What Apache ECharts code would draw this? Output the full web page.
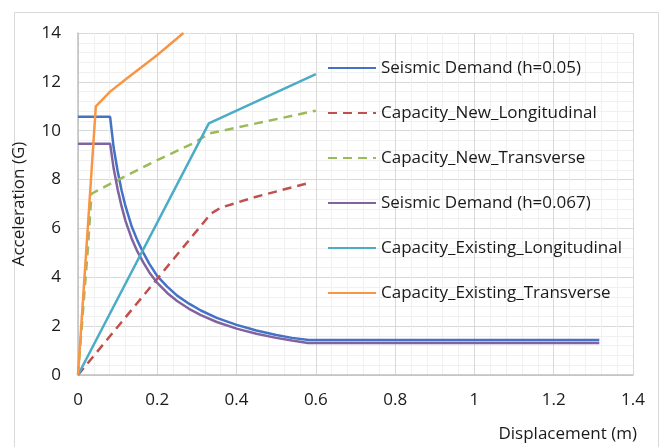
<!DOCTYPE html>
<html>
<head>
<meta charset="utf-8">
<script src="https://cdn.jsdelivr.net/npm/echarts@6/dist/echarts.min.js"></script>
<style>html,body{margin:0;padding:0;background:#fff;}#chart{width:663px;height:447px;}</style>
</head>
<body>
<div id="chart"></div>
<script>
// Series names (legend order)
const seriesNames = [
  'Seismic Demand (h=0.05)',
  'Capacity_New_Longitudinal',
  'Capacity_New_Transverse',
  'Seismic Demand (h=0.067)',
  'Capacity_Existing_Longitudinal',
  'Capacity_Existing_Transverse'
];
// [displacement (m), acceleration (G)]
const demand005 = [[0,10.57],[0.081,10.57],[0.09,9.3],[0.1,8.35],[0.11,7.55],[0.12,6.9],[0.135,6.1],[0.15,5.5],[0.165,5.0],[0.18,4.55],[0.2,4.05],[0.225,3.62],[0.25,3.25],[0.28,2.92],[0.31,2.64],[0.35,2.34],[0.4,2.05],[0.45,1.82],[0.5,1.64],[0.54,1.52],[0.582,1.43],[1.315,1.43]];
const newLongitudinal = [[0,0],[0.335,6.6],[0.36,6.85],[0.45,7.3],[0.58,7.85]];
const newTransverse = [[0,0],[0.025,5.2],[0.034,7.42],[0.089,7.89],[0.19,8.72],[0.29,9.48],[0.332,9.89],[0.45,10.3],[0.6,10.82]];
const demand0067 = [[0,9.47],[0.081,9.47],[0.09,8.45],[0.1,7.6],[0.11,6.9],[0.12,6.3],[0.135,5.6],[0.15,5.05],[0.165,4.6],[0.18,4.2],[0.2,3.77],[0.225,3.36],[0.25,3.03],[0.28,2.71],[0.31,2.45],[0.35,2.17],[0.4,1.9],[0.45,1.69],[0.5,1.52],[0.54,1.41],[0.58,1.31],[1.315,1.31]];
const existingLongitudinal = [[0,0],[0.33,10.3],[0.6,12.32]];
const existingTransverse = [[0,0],[0.045,11.0],[0.081,11.6],[0.123,12.14],[0.16,12.6],[0.2,13.1],[0.266,14.0]];

const seriesData = [demand005, newLongitudinal, newTransverse, demand0067, existingLongitudinal, existingTransverse];
const colors = ['#4472C4','#C0504D','#9BBB59','#8064A2','#4BACC6','#F79646'];
const dashed = [false, true, true, false, false, false];

const xTicks = {min:0, max:1.4, interval:0.2};
const yTicks = {min:0, max:14, interval:2};

const font = 'Open Sans, Liberation Sans, sans-serif';
const textColor = '#1a1a1a';
const chart = echarts.init(document.getElementById('chart'), null, {renderer:'canvas'});
chart.setOption({
  animation:false,
  backgroundColor:'#ffffff',
  color: colors,
  grid:{left:78, top:33, width:555, height:342, containLabel:false},
  legend:{
    orient:'vertical', left:322, top:53,
    itemWidth:48, itemHeight:14, itemGap:25,
    data: seriesNames,
    itemStyle:{opacity:0},
    textStyle:{fontFamily:font, fontSize:17, color:textColor, lineHeight:20}
  },
  xAxis:{
    type:'value', min:xTicks.min, max:xTicks.max, interval:xTicks.interval,
    axisLine:{show:true, onZero:false, lineStyle:{color:'#BFBFBF', width:1.5}},
    axisTick:{show:false},
    axisLabel:{fontFamily:font, fontSize:17, color:textColor, margin:17},
    splitLine:{show:true, lineStyle:{color:'#D9D9D9', width:1}},
    minorTick:{show:false, splitNumber:5},
    minorSplitLine:{show:true, lineStyle:{color:'#F0F0F0', width:1}}
  },
  yAxis:{
    type:'value', min:yTicks.min, max:yTicks.max, interval:yTicks.interval,
    name:'Acceleration (G)', nameLocation:'middle', nameGap:50, nameRotate:90,
    nameTextStyle:{fontFamily:font, fontSize:17, color:textColor},
    axisLine:{show:true, lineStyle:{color:'#BFBFBF', width:1.5}},
    axisTick:{show:false},
    axisLabel:{fontFamily:font, fontSize:17, color:textColor, margin:17},
    splitLine:{show:true, lineStyle:{color:'#D9D9D9', width:1}},
    minorTick:{show:false, splitNumber:5},
    minorSplitLine:{show:true, lineStyle:{color:'#F0F0F0', width:1}}
  },
  graphic:[
    {type:'rect', left:12, top:10, shape:{width:644, height:460}, style:{fill:null, stroke:'#D9D9D9', lineWidth:1}, silent:true, z:-10},
    {type:'text', right:26, top:426, style:{text:'Displacement (m)', font:'17px ' + font, fill:textColor}}
  ],
  series: seriesNames.map((n,i)=>({
    name:n, type:'line', data:seriesData[i], showSymbol:false, symbol:'none',
    clip:true,
    lineStyle:{color:colors[i], width:2.5, type: dashed[i] ? [9,6] : 'solid'},
    itemStyle:{color:colors[i]}
  }))
});
</script>
</body>
</html>
